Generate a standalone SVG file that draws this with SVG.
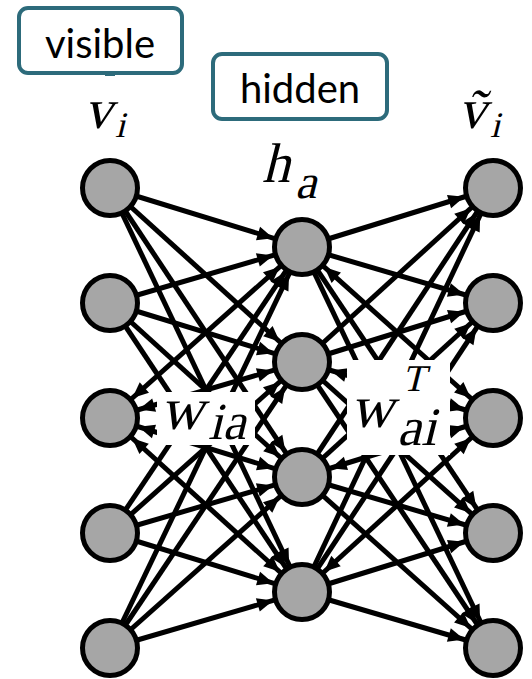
<svg xmlns="http://www.w3.org/2000/svg" width="532" height="679" viewBox="0 0 532 679">
<style>
.e{stroke:#000;stroke-width:5;fill:none;marker-end:url(#ah)}
.b{marker-start:url(#ah)}
.n{fill:#a6a6a6;stroke:#000;stroke-width:5}
.box{fill:#fff;stroke:#2d6b7b;stroke-width:4}
.lbl{font-family:Lato,"Open Sans",sans-serif;font-size:40px;fill:#000;text-anchor:middle}
.wb{fill:#fff;stroke:none}
.m{font-family:"Liberation Serif","DejaVu Serif",serif;font-style:normal;fill:#000}
</style>
<defs>
<marker id="ah" markerUnits="userSpaceOnUse" orient="auto-start-reverse" refX="30" refY="0" markerWidth="40" markerHeight="20" overflow="visible">
<path d="M-16,-7 L0,0 L-16,7 Z" fill="#000"/>
</marker>
</defs>
<g id="connectors">
<line class="e" x1="110" y1="188" x2="302" y2="247"/>
<line class="e" x1="110" y1="188" x2="302" y2="362"/>
<line class="e" x1="110" y1="188" x2="302" y2="477"/>
<line class="e" x1="110" y1="188" x2="302" y2="592"/>
<line class="e" x1="110" y1="303" x2="302" y2="247"/>
<line class="e" x1="110" y1="303" x2="302" y2="362"/>
<line class="e" x1="110" y1="303" x2="302" y2="477"/>
<line class="e" x1="110" y1="303" x2="302" y2="592"/>
<line class="e b" x1="110" y1="418" x2="302" y2="247"/>
<line class="e b" x1="110" y1="418" x2="302" y2="362"/>
<line class="e b" x1="110" y1="418" x2="302" y2="477"/>
<line class="e b" x1="110" y1="418" x2="302" y2="592"/>
<line class="e" x1="110" y1="533" x2="302" y2="247"/>
<line class="e" x1="110" y1="533" x2="302" y2="362"/>
<line class="e" x1="110" y1="533" x2="302" y2="477"/>
<line class="e" x1="110" y1="533" x2="302" y2="592"/>
<line class="e" x1="110" y1="648" x2="302" y2="247"/>
<line class="e" x1="110" y1="648" x2="302" y2="362"/>
<line class="e" x1="110" y1="648" x2="302" y2="477"/>
<line class="e" x1="110" y1="648" x2="302" y2="592"/>
<line class="e" x1="302" y1="247" x2="493" y2="188"/>
<line class="e" x1="302" y1="362" x2="493" y2="188"/>
<line class="e" x1="302" y1="477" x2="493" y2="188"/>
<line class="e" x1="302" y1="592" x2="493" y2="188"/>
<line class="e" x1="302" y1="247" x2="493" y2="303"/>
<line class="e" x1="302" y1="362" x2="493" y2="303"/>
<line class="e" x1="302" y1="477" x2="493" y2="303"/>
<line class="e" x1="302" y1="592" x2="493" y2="303"/>
<line class="e b" x1="302" y1="247" x2="493" y2="418"/>
<line class="e b" x1="302" y1="362" x2="493" y2="418"/>
<line class="e b" x1="302" y1="477" x2="493" y2="418"/>
<line class="e b" x1="302" y1="592" x2="493" y2="418"/>
<line class="e" x1="302" y1="247" x2="493" y2="533"/>
<line class="e" x1="302" y1="362" x2="493" y2="533"/>
<line class="e" x1="302" y1="477" x2="493" y2="533"/>
<line class="e" x1="302" y1="592" x2="493" y2="533"/>
<line class="e" x1="302" y1="247" x2="493" y2="648"/>
<line class="e" x1="302" y1="362" x2="493" y2="648"/>
<line class="e" x1="302" y1="477" x2="493" y2="648"/>
<line class="e" x1="302" y1="592" x2="493" y2="648"/>
</g>
<g id="v1"><circle class="n" cx="110" cy="188" r="27.5"/></g>
<g id="v2"><circle class="n" cx="110" cy="303" r="27.5"/></g>
<g id="v3"><circle class="n" cx="110" cy="418" r="27.5"/></g>
<g id="v4"><circle class="n" cx="110" cy="533" r="27.5"/></g>
<g id="v5"><circle class="n" cx="110" cy="648" r="27.5"/></g>
<g id="h1"><circle class="n" cx="302" cy="247" r="27.5"/></g>
<g id="h2"><circle class="n" cx="302" cy="362" r="27.5"/></g>
<g id="h3"><circle class="n" cx="302" cy="477" r="27.5"/></g>
<g id="h4"><circle class="n" cx="302" cy="592" r="27.5"/></g>
<g id="r1"><circle class="n" cx="493" cy="188" r="27.5"/></g>
<g id="r2"><circle class="n" cx="493" cy="303" r="27.5"/></g>
<g id="r3"><circle class="n" cx="493" cy="418" r="27.5"/></g>
<g id="r4"><circle class="n" cx="493" cy="533" r="27.5"/></g>
<g id="r5"><circle class="n" cx="493" cy="648" r="27.5"/></g>
<g id="w-ia">
<rect class="wb" x="157" y="392" width="98" height="53"/>
<text class="m" transform="translate(160,429) skewX(-14)" font-size="60">w</text>
<text class="m" transform="translate(208,439) skewX(-14)" font-size="52">ia</text>
</g>
<g id="w-ai-T">
<rect class="wb" x="347" y="360" width="103" height="95"/>
<text class="m" transform="translate(350,427) skewX(-14)" font-size="60">w</text>
<text class="m" transform="translate(402,391) skewX(-14)" font-size="38">T</text>
<text class="m" transform="translate(397,445) skewX(-14)" font-size="54">ai</text>
</g>
<g id="label-v">
<text class="m" transform="translate(84,128) skewX(-14)" font-size="56">v</text>
<text class="m" transform="translate(115,137) skewX(-14)" font-size="36">i</text>
</g>
<g id="label-h">
<text class="m" transform="translate(262,182) skewX(-14)" font-size="56">h</text>
<text class="m" transform="translate(295,198) skewX(-14)" font-size="48">a</text>
</g>
<g id="label-vt">
<text class="m" transform="translate(458,128) skewX(-14)" font-size="56">ṽ</text>
<text class="m" transform="translate(490,137) skewX(-14)" font-size="36">i</text>
</g>
<g id="visible">
<rect class="box" x="19" y="8" width="163" height="65" rx="9"/>
<rect x="105" y="73" width="10" height="3" fill="#2d6b7b"/>
<text class="lbl" x="100" y="58">visible</text>
</g>
<g id="hidden">
<rect class="box" x="213" y="54" width="174" height="65" rx="9"/>
<rect x="302" y="118" width="12" height="3" fill="#2d6b7b"/>
<text class="lbl" x="300" y="103">hidden</text>
</g>
</svg>
